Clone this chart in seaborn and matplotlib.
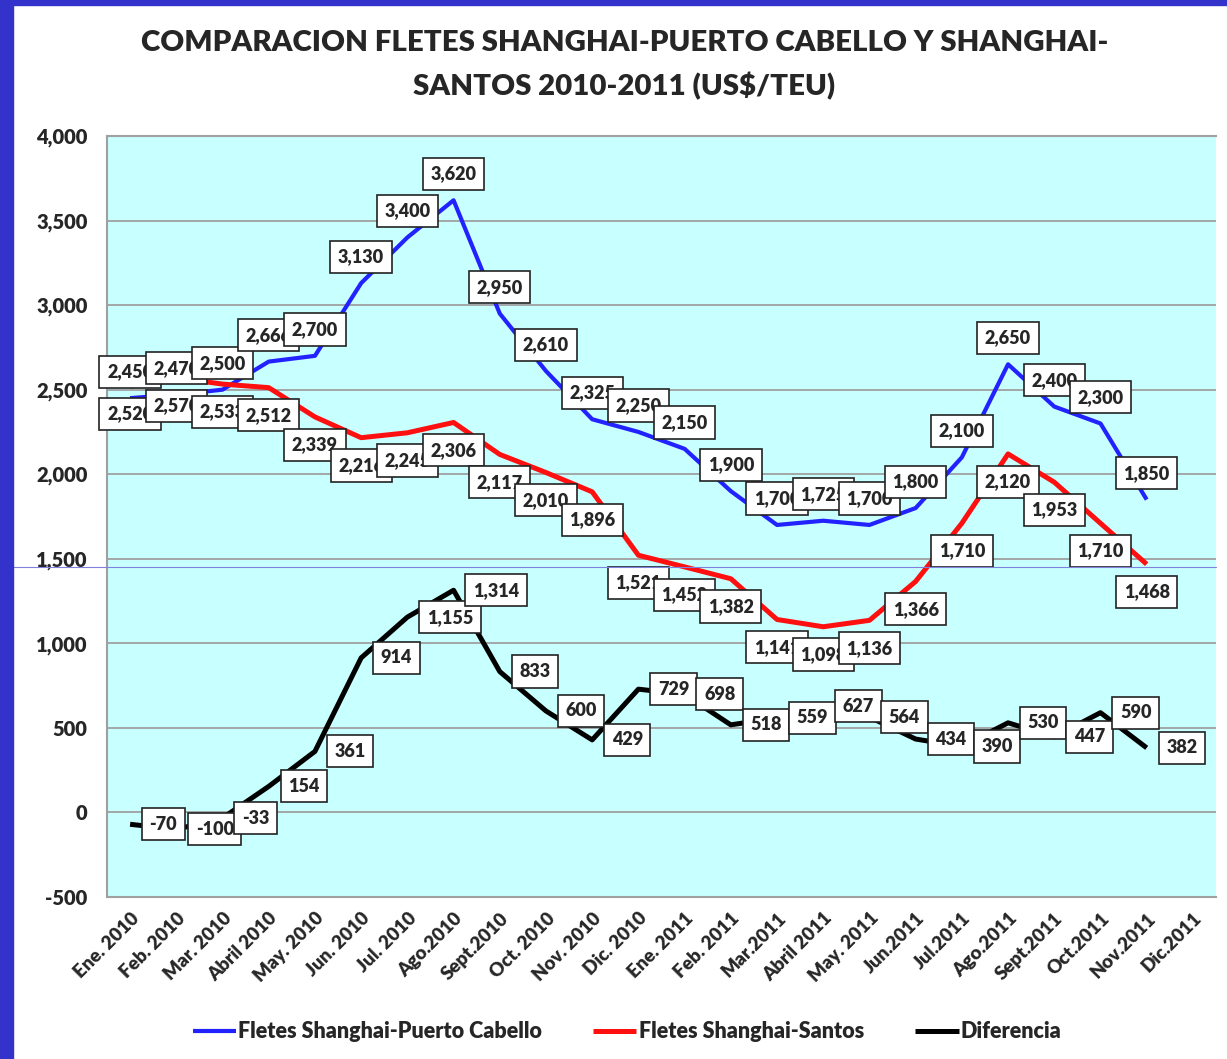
import pandas as pd
import seaborn as sns
import matplotlib.pyplot as plt
from matplotlib.patches import Rectangle
from matplotlib.lines import Line2D

sns.set_style("white")
plt.rcParams['font.family'] = ['Lato', 'DejaVu Sans']
peso = 'heavy'

# Data (US$/TEU)
meses = ['Ene. 2010', 'Feb. 2010', 'Mar. 2010', 'Abril 2010', 'May. 2010', 'Jun. 2010',
         'Jul. 2010', 'Ago.2010', 'Sept.2010', 'Oct. 2010', 'Nov. 2010', 'Dic. 2010',
         'Ene. 2011', 'Feb. 2011', 'Mar.2011', 'Abril 2011', 'May. 2011', 'Jun.2011',
         'Jul.2011', 'Ago.2011', 'Sept.2011', 'Oct.2011', 'Nov.2011', 'Dic.2011']
puerto_cabello = [2450, 2470, 2500, 2666, 2700, 3130, 3400, 3620, 2950, 2610, 2325, 2250,
                  2150, 1900, 1700, 1725, 1700, 1800, 2100, 2650, 2400, 2300, 1850]
santos = [2520, 2570, 2533, 2512, 2339, 2216, 2245, 2306, 2117, 2010, 1896, 1521,
          1452, 1382, 1141, 1098, 1136, 1366, 1710, 2120, 1953, 1710, 1468]
diferencia = [-70, -100, -33, 154, 361, 914, 1155, 1314, 833, 600, 429, 729,
              698, 518, 559, 627, 564, 434, 390, 530, 447, 590, 382]

series = {
    'Fletes Shanghai-Puerto Cabello': puerto_cabello,
    'Fletes Shanghai-Santos': santos,
    'Diferencia': diferencia,
}
colores = {'Fletes Shanghai-Puerto Cabello': '#2222FF',
           'Fletes Shanghai-Santos': '#FF1010',
           'Diferencia': '#000000'}
grosor = {'Fletes Shanghai-Puerto Cabello': 3.0,
          'Fletes Shanghai-Santos': 3.6,
          'Diferencia': 3.6}

frames = []
for nombre, vals in series.items():
    frames.append(pd.DataFrame({'mes': range(len(vals)), 'valor': vals, 'serie': nombre}))
df = pd.concat(frames, ignore_index=True)

fig = plt.figure(figsize=(12.27, 10.59), dpi=100)
ax = fig.add_axes([107 / 1227, 1 - 897 / 1059, (1216 - 107) / 1227, (897 - 136) / 1059])
ax.set_facecolor('#C8FFFF')

for nombre in series:
    sns.lineplot(data=df[df['serie'] == nombre], x='mes', y='valor', color=colores[nombre],
                 linewidth=grosor[nombre], ax=ax, label=nombre,
                 solid_joinstyle='round', solid_capstyle='butt', zorder=3)

# data labels
caja = dict(boxstyle='square,pad=0.42', fc='white', ec='#222222', lw=1.2)
fs_lab = 13
for i, v in enumerate(puerto_cabello):
    ax.annotate(f'{v:,}', (i, v), xytext=(0, 19), textcoords='offset points',
                ha='center', va='center', fontsize=fs_lab, fontweight=peso,
                bbox=caja, zorder=5)
for i, v in enumerate(santos):
    ax.annotate(f'{v:,}', (i, v), xytext=(0, -20), textcoords='offset points',
                ha='center', va='center', fontsize=fs_lab, fontweight=peso,
                bbox=caja, zorder=6)
for i, v in enumerate(diferencia):
    ax.annotate(f'{v:,}', (i, v), xytext=(14, 0), textcoords='offset points',
                ha='left', va='center', fontsize=fs_lab, fontweight=peso,
                bbox=caja, zorder=7)

ax.set_xlim(-0.5, len(meses) - 0.5)
ax.set_ylim(-500, 4000)
ax.set_yticks(range(-500, 4001, 500))
ax.set_yticklabels([f'{t:,}' for t in range(-500, 4001, 500)], fontsize=14.5, fontweight=peso)
ax.set_xticks(range(len(meses)))
ax.set_xticklabels(meses, rotation=45, ha='right', rotation_mode='anchor',
                   fontsize=13.5, fontweight=peso)
ax.set_xticks([i - 0.5 for i in range(len(meses) + 1)], minor=True)
ax.tick_params(axis='x', which='major', length=0, pad=9)
ax.tick_params(axis='x', which='minor', length=7, color='#999999', width=1.3, direction='out')
ax.tick_params(axis='y', length=8, color='#999999', width=1.3, direction='out', pad=6)
ax.grid(axis='y', color='#A0A0A0', linewidth=1.3)
ax.set_axisbelow(True)
for s in ['left', 'bottom', 'top']:
    ax.spines[s].set_color('#A0A0A0')
    ax.spines[s].set_linewidth(1.5)
ax.spines['right'].set_visible(False)
ax.set_xlabel('')
ax.set_ylabel('')

handles, labels = ax.get_legend_handles_labels()
ax.get_legend().remove()
fig.legend(handles, labels, loc='center', bbox_to_anchor=(0.511, 1 - 1032 / 1059), ncol=3,
           frameon=False, handlelength=2.0, handletextpad=0.1,
           columnspacing=2.4, prop={'weight': peso, 'size': 15.5})

fig.text(0.509, 1 - 43 / 1059, 'COMPARACION FLETES SHANGHAI-PUERTO CABELLO Y SHANGHAI-',
         ha='center', va='center', fontsize=21.2, fontweight=peso)
fig.text(0.509, 1 - 86 / 1059, 'SANTOS 2010-2011 (US$/TEU)',
         ha='center', va='center', fontsize=21.2, fontweight=peso)

# frame decorations
fig.add_artist(Rectangle((0, 0), 13 / 1227, 1, transform=fig.transFigure,
                         color='#3333CC', zorder=10))
fig.add_artist(Rectangle((0, 1 - 5 / 1059), 1, 5 / 1059, transform=fig.transFigure,
                         color='#3333CC', zorder=10))
fig.add_artist(Line2D([13 / 1227, 1216 / 1227], [1 - 567 / 1059, 1 - 567 / 1059],
                      transform=fig.transFigure, color='#8080DD', lw=0.8, zorder=4))

fig.savefig('out.png', dpi=100)
